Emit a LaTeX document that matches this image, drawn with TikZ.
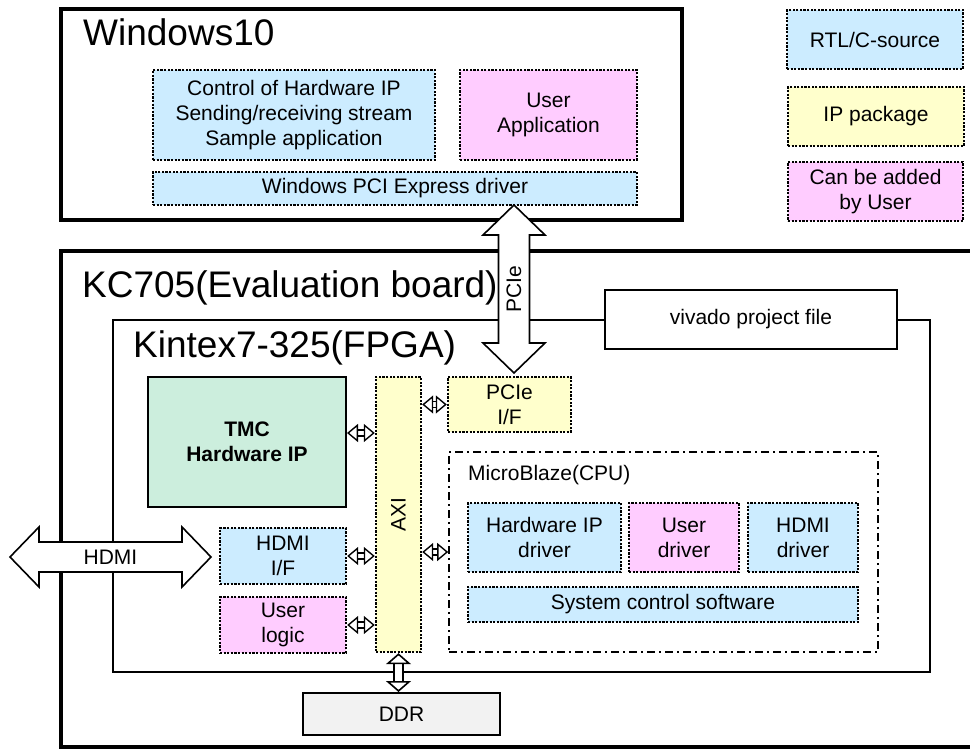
\documentclass[tikz,border=0pt]{standalone}
\usepackage{fontspec}
\setmainfont{Liberation Sans}
\usetikzlibrary{arrows.meta}
\definecolor{rtlblue}{HTML}{CCECFF}
\definecolor{ipyellow}{HTML}{FFFFCC}
\definecolor{userpink}{HTML}{FFCCFF}
\definecolor{tmcgreen}{HTML}{CCEEDD}
\definecolor{ddrgray}{HTML}{F2F2F2}
\tikzset{
    % hollow block arrow: length / shaft half width / head half width / head length
    pics/blockarrow/.style args={#1/#2/#3/#4}{code={
        \draw[fill=white, line width=1.6, line join=miter]
            (0,0) -- (#4,-#3) -- (#4,-#2) -- (#1-#4,-#2) -- (#1-#4,-#3) -- (#1,0)
            -- (#1-#4,#3) -- (#1-#4,#2) -- (#4,#2) -- (#4,#3) -- cycle;
    }}
}
\begin{document}
\begin{tikzpicture}[x=1pt, y=-1pt,
        font=\fontsize{21}{25}\selectfont,
        container/.style={rectangle, draw, line width=4, inner sep=0},
        fpgabox/.style={rectangle, draw, line width=2.4, inner sep=0},
        title/.style={anchor=base west, inner sep=0, font=\fontsize{37}{44}\selectfont},
        block/.style={rectangle, draw, line width=2.4, dash pattern=on 2.2 off 1.4,
                      align=center, inner sep=0},
        rtl/.style={block, fill=rtlblue},
        ippkg/.style={block, fill=ipyellow},
        byuser/.style={block, fill=userpink},
        solidbox/.style={rectangle, draw, line width=2, align=center, inner sep=0},
        cpubox/.style={rectangle, draw, line width=1.6, dash pattern=on 8 off 4 on 2 off 4},
        smallarrow/.style={draw, double, double distance=4.5, line width=1.4,
            {Triangle[length=11pt, width=18pt, fill=white]}-{Triangle[length=11pt, width=18pt, fill=white]}},
        ddrarrow/.style={draw, double, double distance=7.5, line width=1.6,
            {Triangle[length=11pt, width=25pt, fill=white]}-{Triangle[length=11pt, width=25pt, fill=white]}}
    ]
    \useasboundingbox (0,0) rectangle (970,749);

    % host PC
    \node[container, minimum width=621, minimum height=211] (win) at (371.5,114.5) {};
    \node[title] (wintitle) at (83,46) {Windows10};
    \node[rtl, minimum width=282, minimum height=90] (ctrl) at (294,115)
        {Control of Hardware IP\\Sending/receiving stream\\Sample application};
    \node[byuser, minimum width=177, minimum height=90] (userapp) at (548.5,115) {User\\Application};
    \node[rtl, minimum width=484, minimum height=33] (pcidrv) at (395,188.5) {Windows PCI Express driver};

    % legend
    \node[rtl, minimum width=176, minimum height=59] (legrtl) at (875,39.5) {RTL/C-source};
    \node[ippkg, minimum width=176, minimum height=59] (legip) at (876,116.5) {IP package};
    \node[byuser, minimum width=175, minimum height=59] (leguser) at (875.5,191.5) {Can be added\\by User};

    % board and FPGA
    \node[container, minimum width=939, minimum height=496] (board) at (530.5,499) {};
    \node[title] (boardtitle) at (82,297) {KC705(Evaluation board)};
    \node[fpgabox, minimum width=817, minimum height=352] (fpga) at (521.5,496) {};
    \node[title] (fpgatitle) at (133,357) {Kintex7-325(FPGA)};
    \node[solidbox, fill=white, minimum width=292, minimum height=59] (vivado) at (751,319.5) {vivado project file};

    \node[solidbox, fill=tmcgreen, font=\fontsize{21}{25}\selectfont\bfseries,
          minimum width=198, minimum height=130] (tmc) at (247,442) {TMC\\Hardware IP};
    \node[ippkg, minimum width=45, minimum height=275] (axi) at (398.5,514.5) {};
    \node[rotate=90, inner sep=0] (axitext) at (axi) {AXI};
    \node[ippkg, minimum width=123, minimum height=55] (pcieif) at (509.5,404.5) {PCIe\\I/F};
    \node[rtl, minimum width=126, minimum height=56] (hdmiif) at (283,556) {HDMI\\I/F};
    \node[byuser, minimum width=126, minimum height=56] (usrlogic) at (283,625) {User\\logic};
    \node[solidbox, fill=ddrgray, minimum width=197, minimum height=42] (ddr) at (401.5,714) {DDR};

    % CPU
    \node[cpubox, minimum width=429, minimum height=200] (mb) at (663.5,552) {};
    \node[anchor=west, inner sep=0] (mbtitle) at (468,475) {MicroBlaze(CPU)};
    \node[rtl, minimum width=153, minimum height=69] (hwdrv) at (544.5,537.5) {Hardware IP\\driver};
    \node[byuser, minimum width=110, minimum height=69] (usrdrv) at (684,537.5) {User\\driver};
    \node[rtl, minimum width=110, minimum height=69] (hdmidrv) at (803,537.5) {HDMI\\driver};
    \node[rtl, minimum width=390, minimum height=35] (sysctl) at (663,604.5) {System control software};

    % buses
    \draw[smallarrow] (tmc.east |- 0,433) -- (axi.west |- 0,433);
    \draw[smallarrow] (axi.east |- pcieif.west) -- (pcieif.west);
    \draw[smallarrow] (axi.east |- mb.west) -- (mb.west);
    \draw[smallarrow] (hdmiif.east) -- (hdmiif.east -| axi.west);
    \draw[smallarrow] (usrlogic.east) -- (usrlogic.east -| axi.west);
    \draw[ddrarrow] (axi.south) -- (axi.south |- ddr.north);

    % external links
    \coordinate (pcietop) at (514,205);
    \pic[rotate=-90] at (pcietop) {blockarrow=168/15.5/31/30};
    \node[rotate=90, inner sep=0] (pcielabel) at (514,289) {PCIe};
    \coordinate (hdmiend) at (10,557);
    \pic at (hdmiend) {blockarrow=201/15/30/29};
    \node[inner sep=0] (hdmilabel) at (110.5,557) {HDMI};
\end{tikzpicture}
\end{document}
